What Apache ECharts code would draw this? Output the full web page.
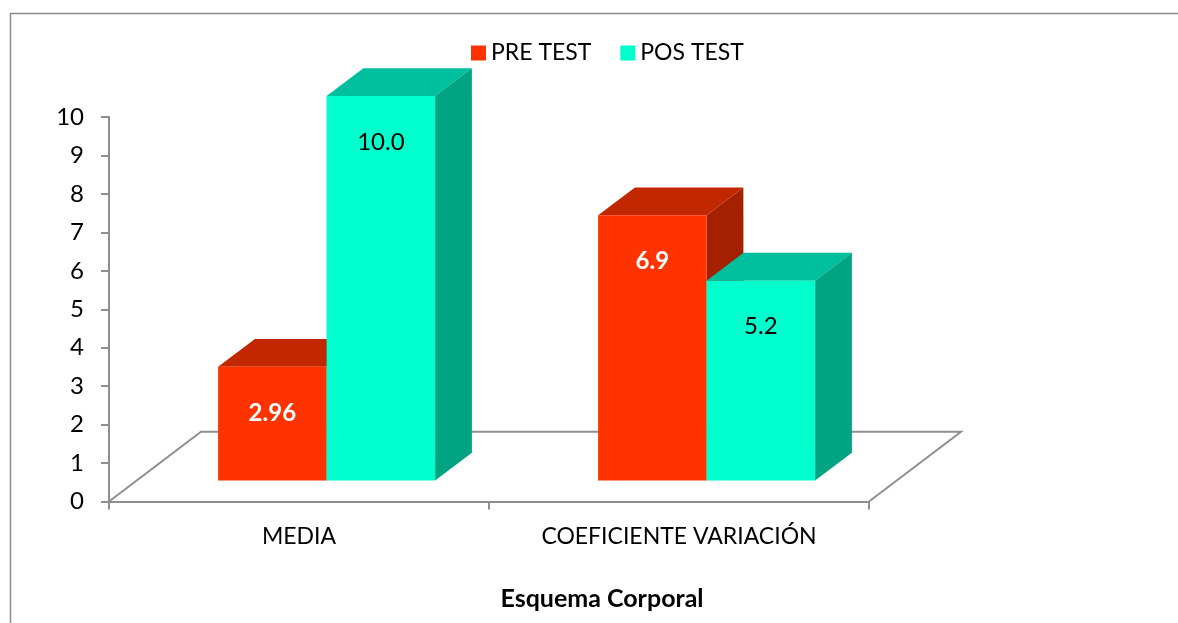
<!DOCTYPE html>
<html>
<head>
<meta charset="utf-8">
<script src="https://cdn.jsdelivr.net/npm/echarts@6/dist/echarts.min.js"></script>
<style>html,body{margin:0;padding:0;background:#fff;}#c{width:1178px;height:623px;}</style>
</head>
<body>
<div id="c"></div>
<script>
const categories = ['MEDIA', 'COEFICIENTE VARIACIÓN'];
const seriesNames = ['PRE TEST', 'POS TEST'];
const preTest = [2.96, 6.9];
const posTest = [10.0, 5.2];
const yTicks = { min: 0, max: 10, interval: 1 };
const xTitle = 'Esquema Corporal';

const FONT = 'Lato, "Liberation Sans", sans-serif';
const DEPTH = [92, -69.7];
const FRONT = 0.3, BACK = 0.7;
const BAR_FRAC = 108.5 / 380;
const LABEL_DROP = 46;
const AXIS_COLOR = '#8f8f8f';

function fmt(v) { return Number.isInteger(v) ? v.toFixed(1) : String(v); }

function makeRender(slot, colors, labelFill, labelWeight) {
  return function (params, api) {
    const ci = api.value(0), v = api.value(1);
    const p0 = api.coord([ci, 0]);
    const p1 = api.coord([ci, v]);
    const band = api.size([1, 0])[0];
    const w = band * BAR_FRAC;
    const fx = FRONT * DEPTH[0], fy = FRONT * DEPTH[1];
    const dx = (BACK - FRONT) * DEPTH[0], dy = (BACK - FRONT) * DEPTH[1];
    const xl = p0[0] + slot * w + fx, xr = xl + w;
    const yb = p0[1] + fy, yt = p1[1] + fy;
    return {
      type: 'group',
      children: [
        { type: 'polygon', shape: { points: [[xl, yt], [xr, yt], [xr + dx, yt + dy], [xl + dx, yt + dy]] }, style: { fill: colors.top } },
        { type: 'polygon', shape: { points: [[xr, yt], [xr + dx, yt + dy], [xr + dx, yb + dy], [xr, yb]] }, style: { fill: colors.side } },
        { type: 'rect', shape: { x: xl, y: yt, width: w, height: yb - yt }, style: { fill: colors.front } },
        { type: 'text', style: { text: fmt(v), x: (xl + xr) / 2, y: yt + LABEL_DROP, align: 'center', verticalAlign: 'middle', fill: labelFill, fontFamily: FONT, fontSize: 24, fontWeight: labelWeight } }
      ]
    };
  };
}

function renderFloor(params, api) {
  const band = api.size([1, 0])[0];
  const a = api.coord([0, 0]);
  const b = api.coord([categories.length - 1, 0]);
  const left = a[0] - band / 2, right = b[0] + band / 2, y = a[1];
  return {
    type: 'polyline',
    shape: { points: [[left, y], [left + DEPTH[0], y + DEPTH[1]], [right + DEPTH[0], y + DEPTH[1]], [right, y]] },
    style: { stroke: AXIS_COLOR, lineWidth: 2, fill: null }
  };
}

const preColors = { front: '#FF3300', top: '#C22800', side: '#A32000' };
const posColors = { front: '#00FFCC', top: '#00BF9C', side: '#00A382' };

const chart = echarts.init(document.getElementById('c'), null, { renderer: 'canvas' });
chart.setOption({
  animation: false,
  backgroundColor: '#ffffff',
  graphic: [{
    type: 'rect', left: 8, top: 11, shape: { x: 0, y: 0, width: 1300, height: 800 },
    style: { fill: null, stroke: '#8c8c8c', lineWidth: 1.5 }, silent: true, z: -10
  }],
  title: {
    text: xTitle, left: 597, top: 581, textAlign: 'center',
    textStyle: { fontFamily: FONT, fontSize: 25, fontWeight: 'bold', color: '#000' }
  },
  legend: {
    data: seriesNames, left: 466, top: 35, icon: 'rect', itemWidth: 15, itemHeight: 15, itemGap: 29,
    textStyle: { fontFamily: FONT, fontSize: 23, color: '#000', lineHeight: 26 }
  },
  grid: { left: 109, right: 309, top: 117, bottom: 121.5, containLabel: false },
  xAxis: {
    type: 'category', data: categories,
    axisLine: { lineStyle: { color: AXIS_COLOR, width: 2 } },
    axisTick: { show: true, length: 8, interval: 0, lineStyle: { color: AXIS_COLOR, width: 2 } },
    axisLabel: { fontFamily: FONT, fontSize: 23, color: '#000', margin: 35.5, verticalAlign: 'middle', interval: 0 },
    splitLine: { show: false }
  },
  yAxis: {
    type: 'value', min: yTicks.min, max: yTicks.max, interval: yTicks.interval,
    axisLine: { show: true, lineStyle: { color: AXIS_COLOR, width: 2 } },
    axisTick: { show: true, length: 8, lineStyle: { color: AXIS_COLOR, width: 2 } },
    axisLabel: { fontFamily: FONT, fontSize: 24, color: '#000', margin: 25 },
    splitLine: { show: false }
  },
  series: [
    { type: 'custom', renderItem: renderFloor, data: [[0, 0]], silent: true, z: 1 },
    { type: 'custom', name: seriesNames[0], itemStyle: { color: preColors.front }, renderItem: makeRender(-1, preColors, '#ffffff', 'bold'),
      data: preTest.map((v, i) => [i, v]), z: 2 },
    { type: 'custom', name: seriesNames[1], itemStyle: { color: posColors.front }, renderItem: makeRender(0, posColors, '#000000', 'normal'),
      data: posTest.map((v, i) => [i, v]), z: 3 }
  ]
});
</script>
</body>
</html>
